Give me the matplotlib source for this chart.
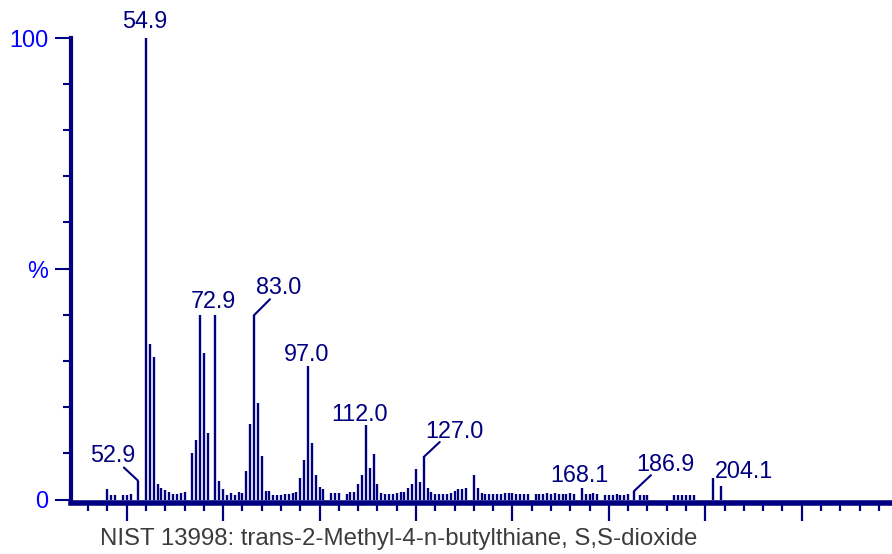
import matplotlib
matplotlib.use("Agg")
import matplotlib.pyplot as plt
from matplotlib.ticker import FixedLocator, MultipleLocator

plt.rcParams['font.family'] = ['Liberation Sans', 'DejaVu Sans']

# m/z and relative intensity (%)
masses = [45, 46, 47, 49, 50, 51, 52.9, 54.9, 56, 57, 58, 59, 60, 61, 62, 63, 64, 65,
          67, 68, 69, 70, 71, 72.9, 74, 75, 76, 77, 78, 79, 80, 81, 82, 83.0, 84, 85,
          86, 87, 88, 89, 90, 91, 92, 93, 94, 95, 96, 97.0, 98, 99, 100, 101, 103, 104,
          105, 107, 108, 109, 110, 111, 112.0, 113, 114, 115, 116, 117, 118, 119, 120,
          121, 122, 123, 124, 125, 126, 127.0, 128, 129, 130, 131, 132, 133, 134, 135,
          136, 137, 138, 140, 141, 142, 143, 144, 145, 146, 147, 148, 149, 150, 151,
          152, 153, 154, 156, 157, 158, 159, 160, 161, 162, 163, 164, 165, 166, 168.1,
          169, 170, 171, 172, 174, 175, 176, 177, 178, 179, 180, 181.5, 183, 184, 185,
          192, 193, 194, 195, 196, 197, 202, 204.1]
intens = [2.2, 1.0, 1.0, 1.0, 1.0, 1.2, 4.1, 100, 33.6, 30.9, 3.3, 2.4, 2.0, 1.7, 1.1, 1.1, 1.4, 1.6,
          10.1, 12.8, 39.9, 31.7, 14.4, 39.9, 4.0, 2.3, 0.9, 1.4, 0.9, 1.7, 1.4, 6.1, 16.4, 39.9, 20.8, 9.5,
          1.8, 1.8, 0.9, 0.9, 1.0, 1.2, 1.2, 1.4, 1.6, 4.7, 8.5, 29.0, 12.3, 5.4, 2.7, 2.2, 1.3, 1.4,
          1.4, 1.1, 1.6, 1.6, 3.3, 5.4, 16.2, 6.9, 9.8, 3.3, 1.3, 1.1, 1.1, 1.1, 1.4,
          1.6, 1.6, 2.5, 3.3, 6.5, 3.8, 9.2, 2.5, 1.6, 1.1, 1.1, 1.1, 1.1, 1.4, 1.8,
          2.2, 2.2, 2.5, 5.3, 2.5, 1.5, 1.1, 1.1, 1.1, 1.1, 1.1, 1.3, 1.3, 1.3, 1.1,
          1.1, 1.1, 1.1, 1.1, 1.1, 1.1, 1.3, 1.1, 1.3, 1.1, 1.1, 1.1, 1.3, 1.1, 2.5,
          1.1, 1.1, 1.3, 1.1, 1.0, 1.0, 1.0, 1.1, 1.0, 1.0, 1.1, 1.8, 1.0, 1.0, 1.0,
          1.0, 1.0, 1.0, 1.0, 1.0, 1.0, 4.6, 3.0]

# labelled peaks: text and the peak it points at
label_texts = ["52.9", "54.9", "72.9", "83.0", "97.0", "112.0", "127.0", "168.1", "186.9", "204.1"]
label_peaks = [52.9, 54.9, 72.9, 83.0, 97.0, 112.0, 127.0, 168.1, 181.5, 204.1]

# text offset (pixels) and leader end offset from peak top
text_off = [(-25, 19), (-1, 10), (-2, 7), (25, 21), (-1, 5), (-6, 4), (31, 19), (-3, 6), (31, 20), (23, 8)]
lead_off = [(-14, 13), None, None, (16, 16), None, None, (16, 15), None, (17, 16), None]

navy = '#000080'
blue = '#0000ff'

fig = plt.figure(figsize=(8.92, 5.54), dpi=100)
ax = fig.add_axes([71 / 892, 54.5 / 554, 821 / 892, 461.8 / 554])

ax.vlines(masses, 0, intens, color=navy, lw=1.7)

for txt, m, toff, loff in zip(label_texts, label_peaks, text_off, lead_off):
    h = intens[masses.index(m)]
    ax.annotate(txt, xy=(m, h), xytext=toff, textcoords='offset pixels',
                ha='center', va='baseline', fontsize=16.8, color=navy)
    if loff is not None:
        ax.annotate('', xy=(m, h), xytext=loff, textcoords='offset pixels',
                    arrowprops=dict(arrowstyle='-', color=navy, lw=1.5,
                                    shrinkA=0, shrinkB=0))

ax.set_xlim(35.56, 248.4)
ax.set_ylim(0, 100)

for s in ['top', 'right']:
    ax.spines[s].set_visible(False)
ax.spines['left'].set_color(navy)
ax.spines['left'].set_linewidth(3.0)
ax.spines['bottom'].set_color(navy)
ax.spines['bottom'].set_linewidth(4.0)
ax.spines['bottom'].set_position(('outward', 2.5))

ax.yaxis.set_major_locator(FixedLocator([0, 50, 100]))
ax.yaxis.set_minor_locator(MultipleLocator(10))
ax.set_yticklabels(['0', '%', '100'])
ax.tick_params(axis='y', which='major', length=11.5, width=1.5, color=navy,
               labelcolor=blue, labelsize=16.8, pad=5)
ax.tick_params(axis='y', which='minor', length=5.8, width=1.5, color=navy)

ax.xaxis.set_major_locator(FixedLocator(list(range(50, 226, 25))))
ax.xaxis.set_minor_locator(FixedLocator(list(range(40, 246, 5))))
ax.tick_params(axis='x', which='major', length=13, width=1.6, color=navy, labelbottom=False)
ax.tick_params(axis='x', which='minor', length=6, width=1.6, color=navy)

fig.text(398.5 / 892, 9 / 554, 'NIST 13998: trans-2-Methyl-4-n-butylthiane, S,S-dioxide',
         ha='center', va='baseline', fontsize=17.3, color='#3c3c3c')

fig.savefig('out.png', dpi=100)
